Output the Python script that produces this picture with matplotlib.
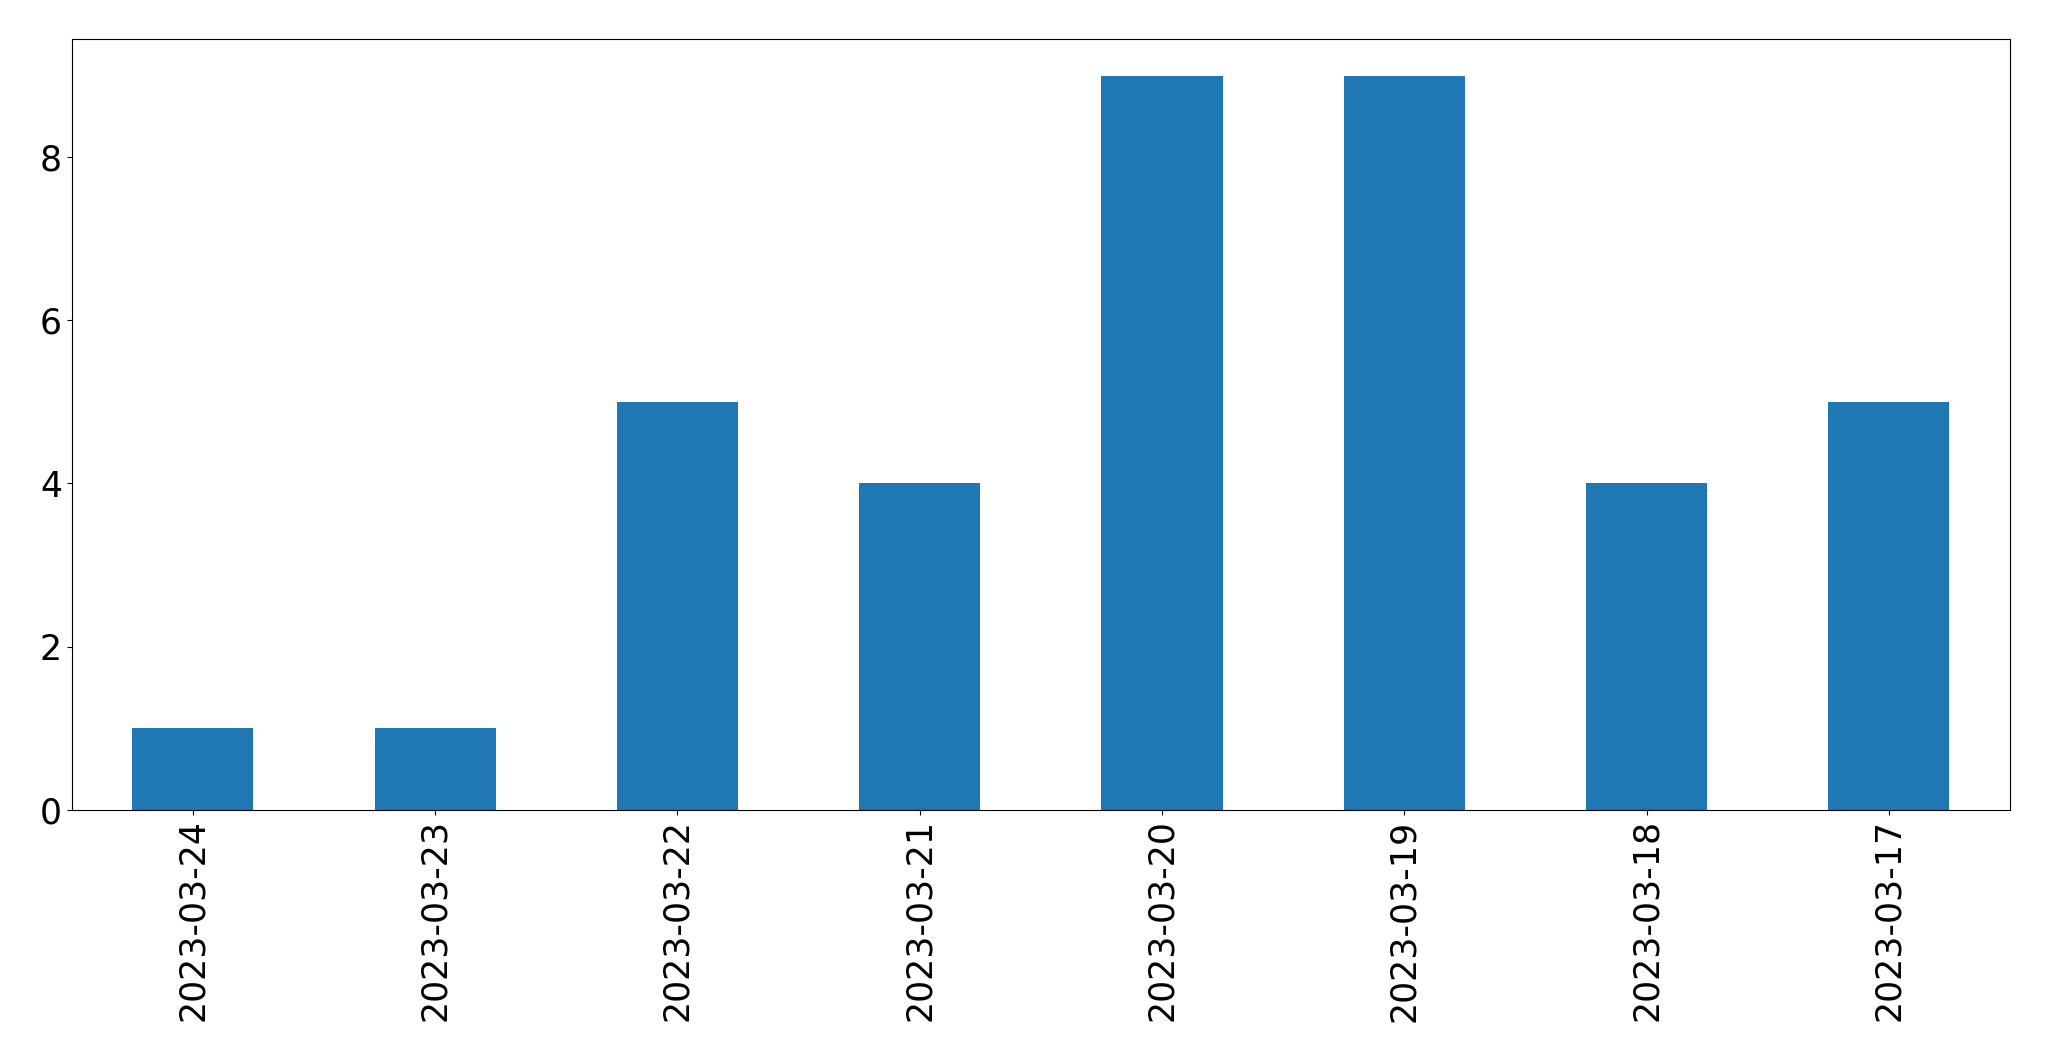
import matplotlib
matplotlib.use("Agg")
import matplotlib.pyplot as plt

dates = ["2023-03-24", "2023-03-23", "2023-03-22", "2023-03-21",
         "2023-03-20", "2023-03-19", "2023-03-18", "2023-03-17"]
counts = [1, 1, 5, 4, 9, 9, 4, 5]


def main():
    fig = plt.figure(figsize=(20.49, 10.61), dpi=100)
    ax = fig.add_axes([0.035, 0.237, 0.946, 0.726])
    x = range(len(dates))
    ax.bar(x, counts, width=0.5, color="#1f77b4")
    ax.set_xlim(-0.5, len(dates) - 0.5)
    ax.set_ylim(0, max(counts) * 1.05)
    ax.set_xticks(list(x))
    ax.set_xticklabels(dates, rotation=90)
    ax.tick_params(labelsize=25)
    fig.savefig("out.png", dpi=100)
    plt.close(fig)


if __name__ == '__main__':
    main()
